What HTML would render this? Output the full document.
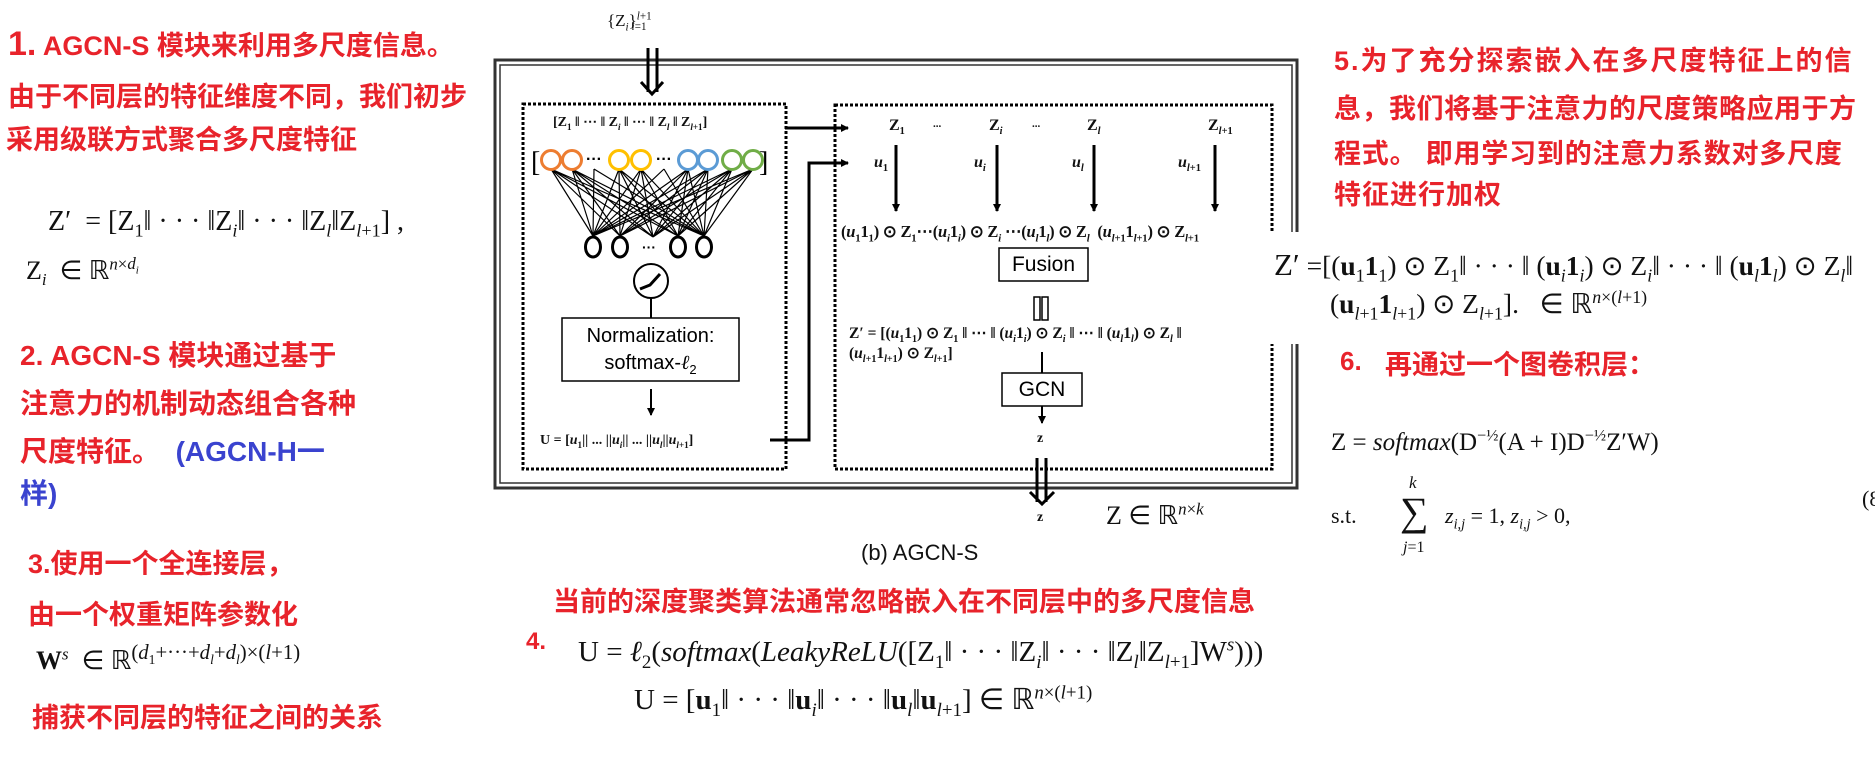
<!DOCTYPE html>
<html><head><meta charset="utf-8"><style>
body{margin:0;width:1875px;height:778px;background:#fff;position:relative;overflow:hidden}
.t{position:absolute;white-space:nowrap;line-height:1}
.r{color:#e8232b;font-family:"Liberation Sans","Noto Sans CJK SC",sans-serif;font-weight:bold;font-size:27px}
.b{color:#3a43cf}
.m{font-family:"Liberation Serif",serif;color:#111}
.d{font-family:"Liberation Serif",serif;font-weight:bold;color:#111}
sub,sup{font-size:65%;line-height:0}
svg{position:absolute;left:0;top:0}
</style></head><body>
<svg width="1875" height="778" viewBox="0 0 1875 778">
<defs><marker id="a" markerWidth="8" markerHeight="8" refX="7" refY="4" orient="auto" markerUnits="userSpaceOnUse"><path d="M0,0 L8,4 L0,8 z" fill="#000"/></marker></defs>
<rect x="495" y="60" width="802" height="428" fill="none" stroke="#333" stroke-width="3"/>
<rect x="500" y="65" width="792" height="418" fill="none" stroke="#333" stroke-width="1.5"/>
<rect x="523" y="104" width="263" height="365" fill="none" stroke="#000" stroke-width="3" stroke-dasharray="3,2"/>
<rect x="835" y="105" width="437" height="364" fill="none" stroke="#000" stroke-width="3" stroke-dasharray="3,2"/>
<rect x="1265" y="232" width="60" height="112" fill="#fff"/>
<line x1="648" y1="48" x2="648" y2="92" stroke="#000" stroke-width="3"/>
<line x1="657" y1="48" x2="657" y2="92" stroke="#000" stroke-width="3"/>
<polyline points="641,82 652,94 663,82" fill="none" stroke="#000" stroke-width="3"/>
<line x1="1037" y1="458" x2="1037" y2="502" stroke="#000" stroke-width="3"/>
<line x1="1046" y1="458" x2="1046" y2="502" stroke="#000" stroke-width="3"/>
<polyline points="1030,492 1042,504 1054,492" fill="none" stroke="#000" stroke-width="3"/>
<g stroke="#000" stroke-width="1.2" fill="none">
<path d="M551,169L593,236M551,169L620,236M551,169L653,237M551,169L678,236M551,169L704,236
M572,169L593,236M572,169L620,236M572,169L653,237M572,169L678,236M572,169L704,236
M619,169L593,236M619,169L620,236M619,169L653,237M619,169L678,236M619,169L704,236
M641,169L593,236M641,169L620,236M641,169L653,237M641,169L678,236M641,169L704,236
M688,169L593,236M688,169L620,236M688,169L653,237M688,169L678,236M688,169L704,236
M708,169L593,236M708,169L620,236M708,169L653,237M708,169L678,236M708,169L704,236
M732,169L593,236M732,169L620,236M732,169L653,237M732,169L678,236M732,169L704,236
M753,169L593,236M753,169L620,236M753,169L653,237M753,169L678,236M753,169L704,236
M594,169L593,236M594,169L704,236M664,169L593,236M664,169L704,236"/>
</g>
<g fill="#fff" stroke-width="3">
<circle cx="551" cy="160" r="9.5" stroke="#ed7d31"/><circle cx="572" cy="160" r="9.5" stroke="#ed7d31"/>
<circle cx="619" cy="160" r="9.5" stroke="#ffc000"/><circle cx="641" cy="160" r="9.5" stroke="#ffc000"/>
<circle cx="688" cy="160" r="9.5" stroke="#5b9bd5"/><circle cx="708" cy="160" r="9.5" stroke="#5b9bd5"/>
<circle cx="732" cy="160" r="9.5" stroke="#70ad47"/><circle cx="753" cy="160" r="9.5" stroke="#70ad47"/>
</g>
<rect x="586" y="156" width="18" height="8" fill="#fff"/><rect x="655" y="156" width="20" height="8" fill="#fff"/>
<text x="586" y="164" font-size="16" font-weight="bold" font-family="Liberation Sans">···</text>
<text x="656" y="164" font-size="16" font-weight="bold" font-family="Liberation Sans">···</text>
<text x="531" y="171" font-size="28" font-family="Liberation Serif">[</text>
<text x="759" y="171" font-size="28" font-family="Liberation Serif">]</text>
<g fill="#fff" stroke="#000" stroke-width="3">
<ellipse cx="593" cy="247" rx="7.5" ry="10"/><ellipse cx="620" cy="247" rx="7.5" ry="10"/>
<ellipse cx="678" cy="247" rx="7.5" ry="10"/><ellipse cx="704" cy="247" rx="7.5" ry="10"/>
</g>
<text x="642" y="252" font-size="14" font-weight="bold" font-family="Liberation Sans">···</text>
<circle cx="651" cy="281" r="17" fill="#fff" stroke="#000" stroke-width="2"/>
<path d="M640,289 L650,285 L660,274" fill="none" stroke="#000" stroke-width="3"/>
<line x1="651" y1="298" x2="651" y2="318" stroke="#000" stroke-width="2"/>
<rect x="562" y="318" width="177" height="63" fill="#fff" stroke="#000" stroke-width="1.5"/>
<line x1="651" y1="389" x2="651" y2="415" stroke="#000" stroke-width="2" marker-end="url(#a)"/>
<line x1="785" y1="128" x2="848" y2="128" stroke="#000" stroke-width="3" marker-end="url(#a)"/>
<polyline points="770,440 809,440 809,163 848,163" fill="none" stroke="#000" stroke-width="3" marker-end="url(#a)"/>
<g stroke="#000" stroke-width="3">
<line x1="896" y1="145" x2="896" y2="211" marker-end="url(#a)"/>
<line x1="997" y1="145" x2="997" y2="211" marker-end="url(#a)"/>
<line x1="1094" y1="145" x2="1094" y2="211" marker-end="url(#a)"/>
<line x1="1215" y1="145" x2="1215" y2="211" marker-end="url(#a)"/>
</g>
<rect x="999" y="248" width="89" height="33" fill="#fff" stroke="#000" stroke-width="1.5"/>
<rect x="1034" y="297" width="6" height="23" fill="none" stroke="#000" stroke-width="1.5"/>
<rect x="1042" y="297" width="6" height="23" fill="none" stroke="#000" stroke-width="1.5"/>
<line x1="1042" y1="352" x2="1042" y2="373" stroke="#000" stroke-width="2"/>
<rect x="1002" y="373" width="80" height="33" fill="#fff" stroke="#000" stroke-width="1.5"/>
<line x1="1042" y1="406" x2="1042" y2="423" stroke="#000" stroke-width="2" marker-end="url(#a)"/>
</svg>

<div class="t m" style="left:607px;top:12px;font-size:17px">{Z<sub><i>i</i></sub>}<sup><i>l</i>+1</sup><sub style="margin-left:-20px"><i>i</i>=1</sub></div>
<div class="t d" style="left:553px;top:116px;font-size:14px">[Z<sub>1</sub> ‖ ⋯ ‖ Z<sub><i>i</i></sub> ‖ ⋯ ‖ Z<sub><i>l</i></sub> ‖ Z<sub><i>l</i>+1</sub>]</div>
<div class="t" style="left:562px;top:326px;width:177px;text-align:center;font-family:'Liberation Sans',sans-serif;font-size:20px">Normalization:</div>
<div class="t" style="left:562px;top:353px;width:177px;text-align:center;font-family:'Liberation Sans',sans-serif;font-size:20px">softmax-<i style="font-family:'Liberation Serif'">ℓ</i><sub>2</sub></div>
<div class="t d" style="left:540px;top:434px;font-size:14px">U = [<i>u</i><sub>1</sub>|| ... ||<i>u<sub>i</sub></i>|| ... ||<i>u<sub>l</sub></i>||<i>u</i><sub><i>l</i>+1</sub>]</div>
<div class="t d" style="left:889px;top:118px;font-size:16px">Z<sub>1</sub></div>
<div class="t d" style="left:933px;top:119px;font-size:11px">...</div>
<div class="t d" style="left:989px;top:118px;font-size:16px">Z<sub><i>i</i></sub></div>
<div class="t d" style="left:1032px;top:119px;font-size:11px">...</div>
<div class="t d" style="left:1087px;top:118px;font-size:16px">Z<sub><i>l</i></sub></div>
<div class="t d" style="left:1208px;top:118px;font-size:16px">Z<sub><i>l</i>+1</sub></div>
<div class="t d" style="left:874px;top:155px;font-size:16px"><i>u</i><sub>1</sub></div>
<div class="t d" style="left:974px;top:155px;font-size:16px"><i>u<sub>i</sub></i></div>
<div class="t d" style="left:1072px;top:155px;font-size:16px"><i>u<sub>l</sub></i></div>
<div class="t d" style="left:1178px;top:155px;font-size:16px"><i>u</i><sub><i>l</i>+1</sub></div>
<div class="t d" style="left:841px;top:224px;font-size:16.5px;letter-spacing:-0.2px">(<i>u</i><sub>1</sub>1<sub>1</sub>) ⊙ Z<sub>1</sub>⋯(<i>u<sub>i</sub></i>1<sub><i>i</i></sub>) ⊙ Z<sub><i>i</i></sub> ⋯(<i>u<sub>l</sub></i>1<sub><i>l</i></sub>) ⊙ Z<sub><i>l</i></sub> &nbsp;(<i>u</i><sub><i>l</i>+1</sub>1<sub><i>l</i>+1</sub>) ⊙ Z<sub><i>l</i>+1</sub></div>
<div class="t" style="left:999px;top:254px;width:89px;text-align:center;font-family:'Liberation Sans',sans-serif;font-size:21px">Fusion</div>
<div class="t d" style="left:849px;top:326px;font-size:15.5px">Z′ = [(<i>u</i><sub>1</sub>1<sub>1</sub>) ⊙ Z<sub>1</sub> ‖ ⋯ ‖ (<i>u<sub>i</sub></i>1<sub><i>i</i></sub>) ⊙ Z<sub><i>i</i></sub> ‖ ⋯ ‖ (<i>u<sub>l</sub></i>1<sub><i>l</i></sub>) ⊙ Z<sub><i>l</i></sub> ‖</div>
<div class="t d" style="left:849px;top:346px;font-size:15.5px">(<i>u</i><sub><i>l</i>+1</sub>1<sub><i>l</i>+1</sub>) ⊙ Z<sub><i>l</i>+1</sub>]</div>
<div class="t" style="left:1002px;top:379px;width:80px;text-align:center;font-family:'Liberation Sans',sans-serif;font-size:21px">GCN</div>
<div class="t d" style="left:1037px;top:432px;font-size:14px">z</div>
<div class="t d" style="left:1037px;top:511px;font-size:14px">z</div>
<div class="t m" style="left:1106px;top:503px;font-size:26px">Z ∈ ℝ<sup><i>n</i>×<i>k</i></sup></div>
<div class="t" style="left:861px;top:542px;font-family:'Liberation Sans',sans-serif;font-size:22px;color:#111">(b) AGCN-S</div>

<div class="t r" style="left:8px;top:27px"><span style="font-size:34px">1.</span> AGCN-S 模块来利用多尺度信息。</div>
<div class="t r" style="left:8px;top:84px">由于不同层的特征维度不同，我们初步</div>
<div class="t r" style="left:6px;top:127px">采用级联方式聚合多尺度特征</div>
<div class="t m" style="left:48px;top:208px;font-size:28px">Z′ &nbsp;= [Z<sub>1</sub>‖ · · · ‖Z<sub><i>i</i></sub>‖ · · · ‖Z<sub><i>l</i></sub>‖Z<sub><i>l</i>+1</sub>] ,</div>
<div class="t m" style="left:26px;top:258px;font-size:26px">Z<sub><i>i</i></sub> &nbsp;∈ ℝ<sup><i>n</i>×<i>d<sub>i</sub></i></sup></div>
<div class="t r" style="left:20px;top:342px;font-size:28px">2. AGCN-S 模块通过基于</div>
<div class="t r" style="left:20px;top:390px;font-size:28px">注意力的机制动态组合各种</div>
<div class="t r" style="left:20px;top:438px;font-size:28px">尺度特征。 &nbsp;<span class="b">(AGCN-H一</span></div>
<div class="t r b" style="left:20px;top:480px;font-size:28px">样)</div>
<div class="t r" style="left:28px;top:551px">3.使用一个全连接层，</div>
<div class="t r" style="left:28px;top:602px">由一个权重矩阵参数化</div>
<div class="t m" style="left:36px;top:648px;font-size:26px"><b>W</b><sup><i>s</i></sup> &nbsp;∈ ℝ<sup style="font-size:80%">(<i>d</i><sub>1</sub>+···+<i>d<sub>l</sub></i>+<i>d<sub>l</sub></i>)×(<i>l</i>+1)</sup></div>
<div class="t r" style="left:32px;top:705px">捕获不同层的特征之间的关系</div>

<div class="t r" style="left:553px;top:589px;font-size:27px">当前的深度聚类算法通常忽略嵌入在不同层中的多尺度信息</div>
<div class="t r" style="left:526px;top:630px;font-size:24px">4.</div>
<div class="t m" style="left:578px;top:638px;font-size:29px">U = <i>ℓ</i><sub>2</sub>(<i>softmax</i>(<i>LeakyReLU</i>([Z<sub>1</sub>‖ · · · ‖Z<sub><i>i</i></sub>‖ · · · ‖Z<sub><i>l</i></sub>‖Z<sub><i>l</i>+1</sub>]W<sup><i>s</i></sup>)))</div>
<div class="t m" style="left:634px;top:686px;font-size:29px">U = [<b>u</b><sub>1</sub>‖ · · · ‖<b>u</b><sub><i>i</i></sub>‖ · · · ‖<b>u</b><sub><i>l</i></sub>‖<b>u</b><sub><i>l</i>+1</sub>] ∈ ℝ<sup><i>n</i>×(<i>l</i>+1)</sup></div>

<div class="t r" style="left:1334px;top:48px;font-size:27px;letter-spacing:2px">5.为了充分探索嵌入在多尺度特征上的信</div>
<div class="t r" style="left:1334px;top:96px;font-size:27px;letter-spacing:0.5px">息，我们将基于注意力的尺度策略应用于方</div>
<div class="t r" style="left:1334px;top:141px;font-size:27px;letter-spacing:0.8px">程式。 即用学习到的注意力系数对多尺度</div>
<div class="t r" style="left:1334px;top:182px;font-size:27px;letter-spacing:1px">特征进行加权</div>
<div class="t m" style="left:1274px;top:249px;font-size:27.5px"><span style="font-size:31px">Z′</span> =[(<b>u</b><sub>1</sub><b>1</b><sub>1</sub>) ⊙ Z<sub>1</sub>‖ · · · ‖ (<b>u</b><sub><i>i</i></sub><b>1</b><sub><i>i</i></sub>) ⊙ Z<sub><i>i</i></sub>‖ · · · ‖ (<b>u</b><sub><i>l</i></sub><b>1</b><sub><i>l</i></sub>) ⊙ Z<sub><i>l</i></sub>‖</div>
<div class="t m" style="left:1330px;top:290px;font-size:27.5px">(<b>u</b><sub><i>l</i>+1</sub><b>1</b><sub><i>l</i>+1</sub>) ⊙ Z<sub><i>l</i>+1</sub>]. &nbsp;&nbsp;∈ ℝ<sup><i>n</i>×(<i>l</i>+1)</sup></div>
<div class="t r" style="left:1340px;top:348px;font-size:26px">6.</div>
<div class="t r" style="left:1385px;top:352px;font-size:27px">再通过一个图卷积层：</div>
<div class="t m" style="left:1331px;top:430px;font-size:25px">Z = <i>softmax</i>(D<sup>−½</sup>(A + I)D<sup>−½</sup>Z′W)</div>
<div class="t m" style="left:1331px;top:505px;font-size:22px">s.t.</div>
<div class="t m" style="left:1409px;top:474px;font-size:17px"><i>k</i></div>
<div class="t m" style="left:1400px;top:492px;font-size:40px">∑</div>
<div class="t m" style="left:1403px;top:540px;font-size:16px"><i>j</i>=1</div>
<div class="t m" style="left:1445px;top:505px;font-size:22px"><i>z<sub>i,j</sub></i> = 1, <i>z<sub>i,j</sub></i> &gt; 0,</div>
<div class="t m" style="left:1862px;top:488px;font-size:22px">(8</div>
</body></html>
